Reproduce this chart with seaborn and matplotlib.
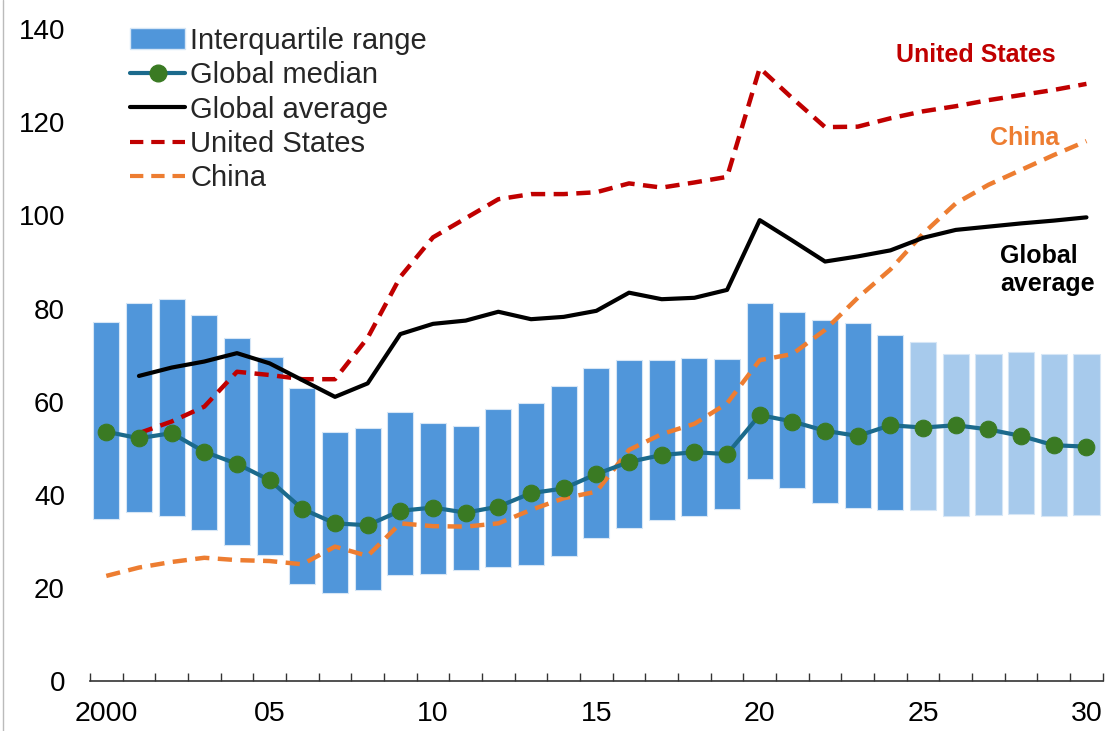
import numpy as np
import pandas as pd
import matplotlib
matplotlib.use("Agg")
import matplotlib.pyplot as plt
import seaborn as sns
from matplotlib.patches import Patch
from matplotlib.lines import Line2D

sns.set_theme(style="white")
plt.rcParams['font.family'] = ['Liberation Sans', 'DejaVu Sans']

years = list(range(2000, 2031))
tick_labels = ["2000", "05", "10", "15", "20", "25", "30"]

iqr_top = [77.2, 81.1, 82.1, 78.7, 73.7, 69.6, 62.8, 53.5, 54.2, 57.7, 55.3,
           54.8, 58.3, 59.6, 63.4, 67.1, 68.9, 68.9, 69.4, 69.1, 81.1,
           79.3, 77.5, 76.9, 74.2, 72.9, 70.2, 70.2, 70.6, 70.2, 70.2]
iqr_bottom = [34.8, 36.2, 35.4, 32.3, 29.2, 26.9, 20.8, 18.9, 19.5, 22.7, 22.9,
              23.7, 24.5, 24.8, 26.8, 30.6, 32.9, 34.5, 35.3, 36.9, 43.3,
              41.5, 38.2, 37.2, 36.7, 36.7, 35.3, 35.5, 35.8, 35.4, 35.7]
median = [53.5, 52.1, 53.2, 49.2, 46.6, 43.1, 36.9, 33.8, 33.4, 36.5, 37.2,
          36.1, 37.4, 40.3, 41.3, 44.4, 47.0, 48.5, 49.1, 48.7, 57.1,
          55.7, 53.7, 52.6, 54.9, 54.4, 54.9, 54.0, 52.6, 50.6, 50.3]
global_avg = [np.nan, 65.5, 67.3, 68.6, 70.4, 68.2, 64.6, 61.0, 63.9, 74.5, 76.7,
              77.4, 79.3, 77.7, 78.2, 79.5, 83.4, 82.0, 82.3, 84.0, 99.0,
              94.6, 90.1, 91.2, 92.5, 95.2, 96.9, 97.6, 98.3, 98.9, 99.6]
united_states = [np.nan, 53.2, 55.7, 58.9, 66.4, 65.7, 64.8, 64.8, 73.7, 86.8, 95.3,
                 99.4, 103.5, 104.6, 104.6, 105.0, 106.9, 106.0, 107.1, 108.3, 131.7,
                 125.2, 119.0, 119.1, 120.9, 122.4, 123.5, 124.8, 125.9, 127.0, 128.3]
china = [22.5, 24.3, 25.5, 26.4, 25.9, 25.7, 25.0, 28.8, 26.8, 33.8, 33.2,
         33.1, 33.8, 36.7, 39.2, 40.6, 49.6, 53.0, 55.2, 59.6, 68.9,
         70.2, 75.4, 82.3, 88.4, 96.1, 102.6, 106.6, 109.8, 113.0, 116.0]
projection_start = 2025

df = pd.DataFrame({
    "year": years, "pos": np.arange(len(years)),
    "top": iqr_top, "bottom": iqr_bottom, "median": median,
    "avg": global_avg, "us": united_states, "china": china,
})

C_BAR = "#5096DA"
C_BAR_LIGHT = "#A7CAEC"
C_MED = "#1B6A8C"
C_MARK = "#3A7A23"
C_US = "#C00000"
C_CN = "#ED7D31"

fig = plt.figure(figsize=(11.05, 7.31), dpi=100)
ax = fig.add_axes([0.0814, 0.069, 0.9166, 0.8907])

bar_colors = [C_BAR if y < projection_start else C_BAR_LIGHT for y in years]
ax.bar(df["pos"], df["top"] - df["bottom"], bottom=df["bottom"], width=0.8,
       color=bar_colors, edgecolor="#D6E6F6", linewidth=0.8, zorder=1)

sns.lineplot(data=df.dropna(subset=["china"]), x="pos", y="china", ax=ax, color=C_CN,
             linewidth=3.2, zorder=2)
ax.lines[-1].set_dashes((3.2, 1.9))
sns.lineplot(data=df.dropna(subset=["us"]), x="pos", y="us", ax=ax, color=C_US,
             linewidth=3.2, zorder=2)
ax.lines[-1].set_dashes((3.2, 1.9))
sns.lineplot(data=df.dropna(subset=["avg"]), x="pos", y="avg", ax=ax, color="black",
             linewidth=3.0, zorder=3)
sns.lineplot(data=df, x="pos", y="median", ax=ax, color=C_MED, linewidth=3.0,
             marker="o", markersize=12, markerfacecolor=C_MARK,
             markeredgecolor=C_MARK, zorder=4)

ax.set_xlim(-0.5, len(years) - 0.5)
ax.set_ylim(0, 140)
ax.set_yticks(np.arange(0, 141, 20))
ax.set_xlabel("")
ax.set_ylabel("")

label_pos = [i for i, y in enumerate(years) if y % 5 == 0]
ax.set_xticks(label_pos)
ax.set_xticklabels(tick_labels)
ax.set_xticks(np.arange(-0.5, len(years)), minor=True)
ax.tick_params(axis="x", which="major", length=0, pad=15, labelsize=20.5, colors="black")
ax.tick_params(axis="x", which="minor", length=6, width=1.0, direction="in",
               color="#333333", bottom=True)
ax.tick_params(axis="y", length=0, pad=18, labelsize=20, colors="black")

for s in ["top", "right", "left"]:
    ax.spines[s].set_visible(False)
ax.spines["bottom"].set_color("#333333")
ax.spines["bottom"].set_linewidth(1.2)

handles = [
    Patch(facecolor=C_BAR, edgecolor="#D6E6F6"),
    Line2D([], [], color=C_MED, lw=3, marker="o", markersize=12,
           markerfacecolor=C_MARK, markeredgecolor=C_MARK),
    Line2D([], [], color="black", lw=3),
    Line2D([], [], color=C_US, lw=3, dashes=(3.2, 1.9)),
    Line2D([], [], color=C_CN, lw=3, dashes=(3.2, 1.9)),
]
labels = ["Interquartile range", "Global median", "Global average",
          "United States", "China"]
ax.legend(handles, labels, loc="upper left", bbox_to_anchor=(0.028, 1.022),
          frameon=False, fontsize=21, handlelength=1.9, handletextpad=0.17,
          labelspacing=0.22, borderaxespad=0.0)

ax.text(26.6, 134.5, "United States", color=C_US, fontsize=18, fontweight="bold",
        ha="center", va="center")
ax.text(28.1, 116.7, "China", color=C_CN, fontsize=18, fontweight="bold",
        ha="center", va="center")
ax.text(27.35, 88.3, "Global\naverage", color="black", fontsize=18, fontweight="bold",
        ha="left", va="center", linespacing=1.2)

fig.add_artist(Line2D([0.003, 0.003], [0, 1], transform=fig.transFigure,
                      color="#BBBBBB", lw=1))

fig.savefig("out.png", dpi=100)
